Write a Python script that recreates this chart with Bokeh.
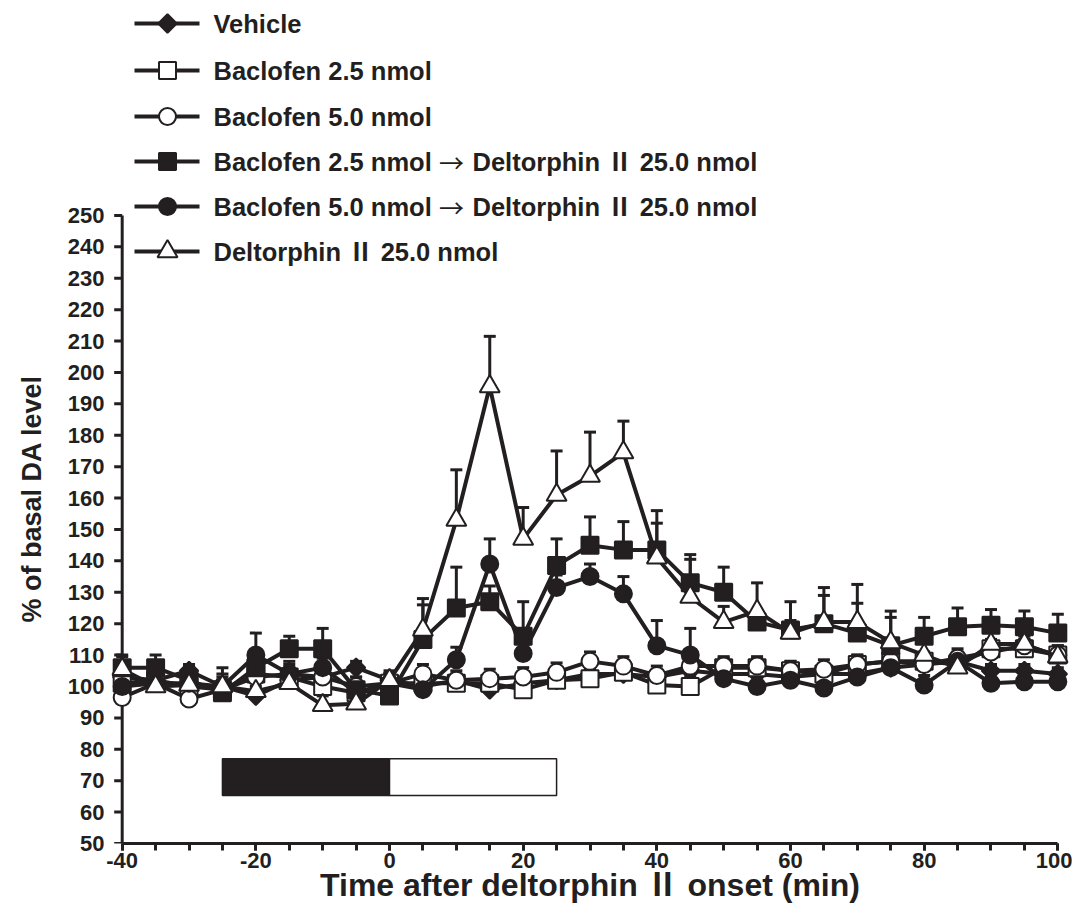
import math
from bokeh.plotting import figure
from bokeh.models import (Range1d, FixedTicker, SingleIntervalTicker, Whisker, TeeHead,
                          ColumnDataSource, Title)
from bokeh.core.properties import value
from bokeh.embed import file_html
from bokeh.resources import INLINE

# ---------------- data ----------------
time = [-40, -35, -30, -25, -20, -15, -10, -5, 0, 5, 10, 15, 20, 25, 30,
        35, 40, 45, 50, 55, 60, 65, 70, 75, 80, 85, 90, 95, 100]

vehicle = [103, 102, 105, 100, 97, 102, 103, 106, 102, 100, 102, 99, 101, 102, 104,
           104, 103, 105, 104, 104, 103, 104, 104, 106, 107, 108, 105, 105, 104]
vehicle_err = [2, 2, 2, 2, 3, 2, 2, 2, 2, 2, 2, 2, 2, 2, 2,
               2, 2, 2, 2, 2, 3, 2, 2, 2, 2, 2, 2, 2, 2]

bac25 = [101, 102, 100, 99, 104, 103, 100, 98, 101, 101, 101, 101, 99, 102, 102.5,
         104.5, 100.5, 100, 106, 106, 105, 104, 107, 108, 108, 107, 112, 112, 110]
bac25_err = [3, 3, 2, 3, 3, 3, 3, 2, 3, 3, 2, 3, 3, 3, 3,
             3, 3, 3, 3, 3, 3, 3, 3, 3, 3, 3, 3, 3, 3]

bac50 = [96.5, 101, 96, 99, 103, 104, 103, 100, 101, 104, 102, 102.5, 103, 104.5, 108,
         106.5, 103.5, 106.5, 106.5, 106.5, 105, 105.5, 107, 108, 107, 109, 111, 113, 110]
bac50_err = [3, 3, 3, 3, 3, 3, 3, 3, 3, 3, 3, 3, 3, 3, 3,
             3, 3, 3, 3, 3, 3, 3, 3, 3, 3, 3, 3, 3, 3]

bac25_delt = [106, 106, 102, 98, 106, 112, 112, 99, 97, 115, 125, 127, 116, 138.5, 145,
              143.5, 143.5, 133, 130, 120.5, 118, 120, 117, 113, 116, 119, 119.5, 119, 117]
bac25_delt_err = [4, 4, 3, 8, 5, 4, 6.5, 4, 3, 11, 13, 5, 11, 8.5, 9,
                  9, 8.5, 9, 8, 3, 3, 9, 9.5, 9, 6, 6, 5, 5, 6]

bac50_delt = [100, 101, 101, 100, 110, 104, 106, 98, 101, 99, 108.5, 139, 110.5, 131.5, 135,
              129.5, 113, 110, 102.5, 100, 102, 99.5, 103, 106, 100.5, 108, 101, 101.5, 101.5]
bac50_delt_err = [3, 3, 3, 3, 7, 4, 3, 3, 3, 3, 4, 8, 4, 4, 4,
                  5.5, 8, 8.5, 4, 3, 3, 3, 3, 3, 3, 3, 3, 3, 3]

delt = [105.5, 100, 100.5, 100, 98.5, 101, 94, 94.5, 102, 118, 153, 195.5, 147, 161, 167,
        174.5, 141, 128.5, 120.5, 124, 117, 120.5, 120.5, 114, 110, 106, 113.5, 113.5, 109.5]
delt_err = [4, 3, 3, 4, 3, 3, 3, 3, 3, 10, 16, 16, 10, 14, 14,
            10, 15, 12, 5, 9, 10, 11, 12, 10, 4, 3, 4, 3, 3]

ARROW = "\u2192"
series_names = [
    "Vehicle",
    "Baclofen 2.5 nmol",
    "Baclofen 5.0 nmol",
    "Baclofen 2.5 nmol " + ARROW + " Deltorphin \u2161 25.0 nmol",
    "Baclofen 5.0 nmol " + ARROW + " Deltorphin \u2161 25.0 nmol",
    "Deltorphin \u2161 25.0 nmol",
]
series_values = [vehicle, bac25, bac50, bac25_delt, bac50_delt, delt]
series_errors = [vehicle_err, bac25_err, bac50_err, bac25_delt_err, bac50_delt_err, delt_err]

xtick_values = [-40, -20, 0, 20, 40, 60, 80, 100]
xtick_labels = ["-40", "-20", "0", "20", "40", "60", "80", "100"]
ytick_values = [50, 60, 70, 80, 90, 100, 110, 120, 130, 140, 150, 160, 170, 180, 190,
                200, 210, 220, 230, 240, 250]
ytick_labels = [str(v) for v in ytick_values]

# treatment bar: baclofen (black) then deltorphin (white)
bar_edges = [-25, 0, 25]
bar_bottom, bar_top = 65.3, 77

x_title = "Time after deltorphin \u2161 onset (min)"
y_title = "% of basal DA level"

# ---------------- style ----------------
INK = "#231f20"
FONT = "Liberation Sans"
FONT_MIX = "Liberation Sans, Noto Sans CJK JP"
CJK = "Noto Sans CJK JP"

markers = [
    dict(marker="square", size=13, angle=math.pi / 4, fill_color=INK),
    dict(marker="square", size=17, angle=0, fill_color="white"),
    dict(marker="circle", size=17, angle=0, fill_color="white"),
    dict(marker="square", size=17, angle=0, fill_color=INK),
    dict(marker="circle", size=17, angle=0, fill_color=INK),
    dict(marker="triangle", size=20, angle=0, fill_color="white"),
]

X0, X1 = -41.6, 101.6
Y0, Y1 = 50.0, 315.9
FW, FH = 957, 835
LEFT, TOP = 110, 8

p = figure(frame_width=FW, frame_height=FH,
           x_range=Range1d(X0, X1), y_range=Range1d(Y0, Y1),
           output_backend="svg", toolbar_location=None,
           min_border_left=LEFT, min_border_top=TOP, min_border_right=4,
           min_border_bottom=30)
p.outline_line_color = None
p.xgrid.visible = False
p.ygrid.visible = False
p.background_fill_color = "white"

sx = FW / (X1 - X0)
sy = FH / (Y1 - Y0)

# x axis
xa = p.xaxis[0]
xa.bounds = (-40, 100)
xa.ticker = SingleIntervalTicker(interval=20, num_minor_ticks=4)
xa.major_label_overrides = {v: s for v, s in zip(xtick_values, xtick_labels)}
xa.axis_line_width = 3
xa.axis_line_color = INK
xa.major_tick_line_width = 3
xa.minor_tick_line_width = 3
xa.major_tick_line_color = INK
xa.minor_tick_line_color = INK
xa.major_tick_out = 7
xa.minor_tick_out = 7
xa.major_tick_in = 0
xa.minor_tick_in = 0
xa.major_label_text_font = FONT
xa.major_label_text_font_style = "bold"
xa.major_label_text_font_size = "22px"
xa.major_label_text_color = INK
xa.major_label_standoff = 2
xa.axis_label = x_title
xa.axis_label_text_font = FONT_MIX
xa.axis_label_text_font_style = "bold"
xa.axis_label_text_font_size = "32px"
xa.axis_label_text_color = INK
xa.axis_label_standoff = -4

# y axis (labels only; line and ticks drawn at x=-40 below)
ya = p.yaxis[0]
ya.bounds = (50, 250)
ya.ticker = FixedTicker(ticks=ytick_values)
ya.major_label_overrides = {v: s for v, s in zip(ytick_values, ytick_labels)}
ya.axis_line_color = None
ya.major_tick_line_color = None
ya.minor_tick_line_color = None
ya.major_tick_out = 0
ya.major_tick_in = 0
ya.major_label_text_font = FONT
ya.major_label_text_font_style = "bold"
ya.major_label_text_font_size = "22px"
ya.major_label_text_color = INK
ya.major_label_standoff = 7

# y axis title as a side title, offset upward from the frame bottom
p.add_layout(Title(text=y_title, align="left", offset=221, vertical_align="top",
                   standoff=32,
                   text_font=FONT, text_font_style="bold", text_font_size="27px",
                   text_color=INK), "left")

tick_len = 8 / sx
p.segment(x0=[-40], y0=[ytick_values[0]], x1=[-40], y1=[ytick_values[-1]],
          line_width=3, line_color=INK)
p.segment(x0=[-40 - tick_len] * len(ytick_values), y0=ytick_values,
          x1=[-40] * len(ytick_values), y1=ytick_values,
          line_width=3, line_color=INK)

# treatment bar
p.quad(left=[bar_edges[0]], right=[bar_edges[1]], bottom=[bar_bottom], top=[bar_top],
       fill_color=INK, line_color=INK, line_width=1.5)
p.quad(left=[bar_edges[1]], right=[bar_edges[2]], bottom=[bar_bottom], top=[bar_top],
       fill_color="white", line_color=INK, line_width=1.5)

# series
for vals, errs, mk in zip(series_values, series_errors, markers):
    src = ColumnDataSource(dict(x=time, y=vals, upper=[v + e for v, e in zip(vals, errs)]))
    w = Whisker(source=src, base="x", lower="y", upper="upper", dimension="height",
                line_color=INK, line_width=3,
                upper_head=TeeHead(size=12, line_color=INK, line_width=3),
                lower_head=None)
    p.add_layout(w)
    p.line("x", "y", source=src, line_color=INK, line_width=4)
    p.scatter("x", "y", source=src, marker=mk["marker"], size=mk["size"], angle=mk["angle"],
              fill_color=mk["fill_color"], line_color=INK, line_width=2)

# legend (drawn in the upper part of the frame); positions given in page pixels
def data_x(px):
    return X0 + (px - LEFT) / sx

def data_y(py):
    return Y0 + ((TOP + FH) - py) / sy

legend_rows = [23, 70, 116, 161, 206, 251]
TXT = dict(text_font=value(FONT_MIX), text_font_style="bold", text_font_size="25.5px",
           text_baseline="middle", text_align="left", text_color=INK)
for row, name, mk in zip(legend_rows, series_names, markers):
    yy = data_y(row)
    p.segment(x0=[data_x(133)], y0=[yy], x1=[data_x(198)], y1=[yy], line_color=INK, line_width=4)
    p.scatter(x=[data_x(166)], y=[yy], marker=mk["marker"], size=mk["size"], angle=mk["angle"],
              fill_color=mk["fill_color"], line_color=INK, line_width=2)
    if ARROW in name:
        left_part, right_part = [s.strip() for s in name.split(ARROW)]
        p.text(x=[data_x(212)], y=[yy], text=[left_part], **TXT)
        p.text(x=[data_x(450)], y=[yy], text=[ARROW], text_font=value(CJK),
               text_font_size="25px", text_baseline="middle", text_align="center",
               text_color=INK)
        p.text(x=[data_x(471)], y=[yy], text=[right_part], **TXT)
    else:
        p.text(x=[data_x(212)], y=[yy], text=[name], **TXT)

open("out.html", "w").write(file_html(p, INLINE))
